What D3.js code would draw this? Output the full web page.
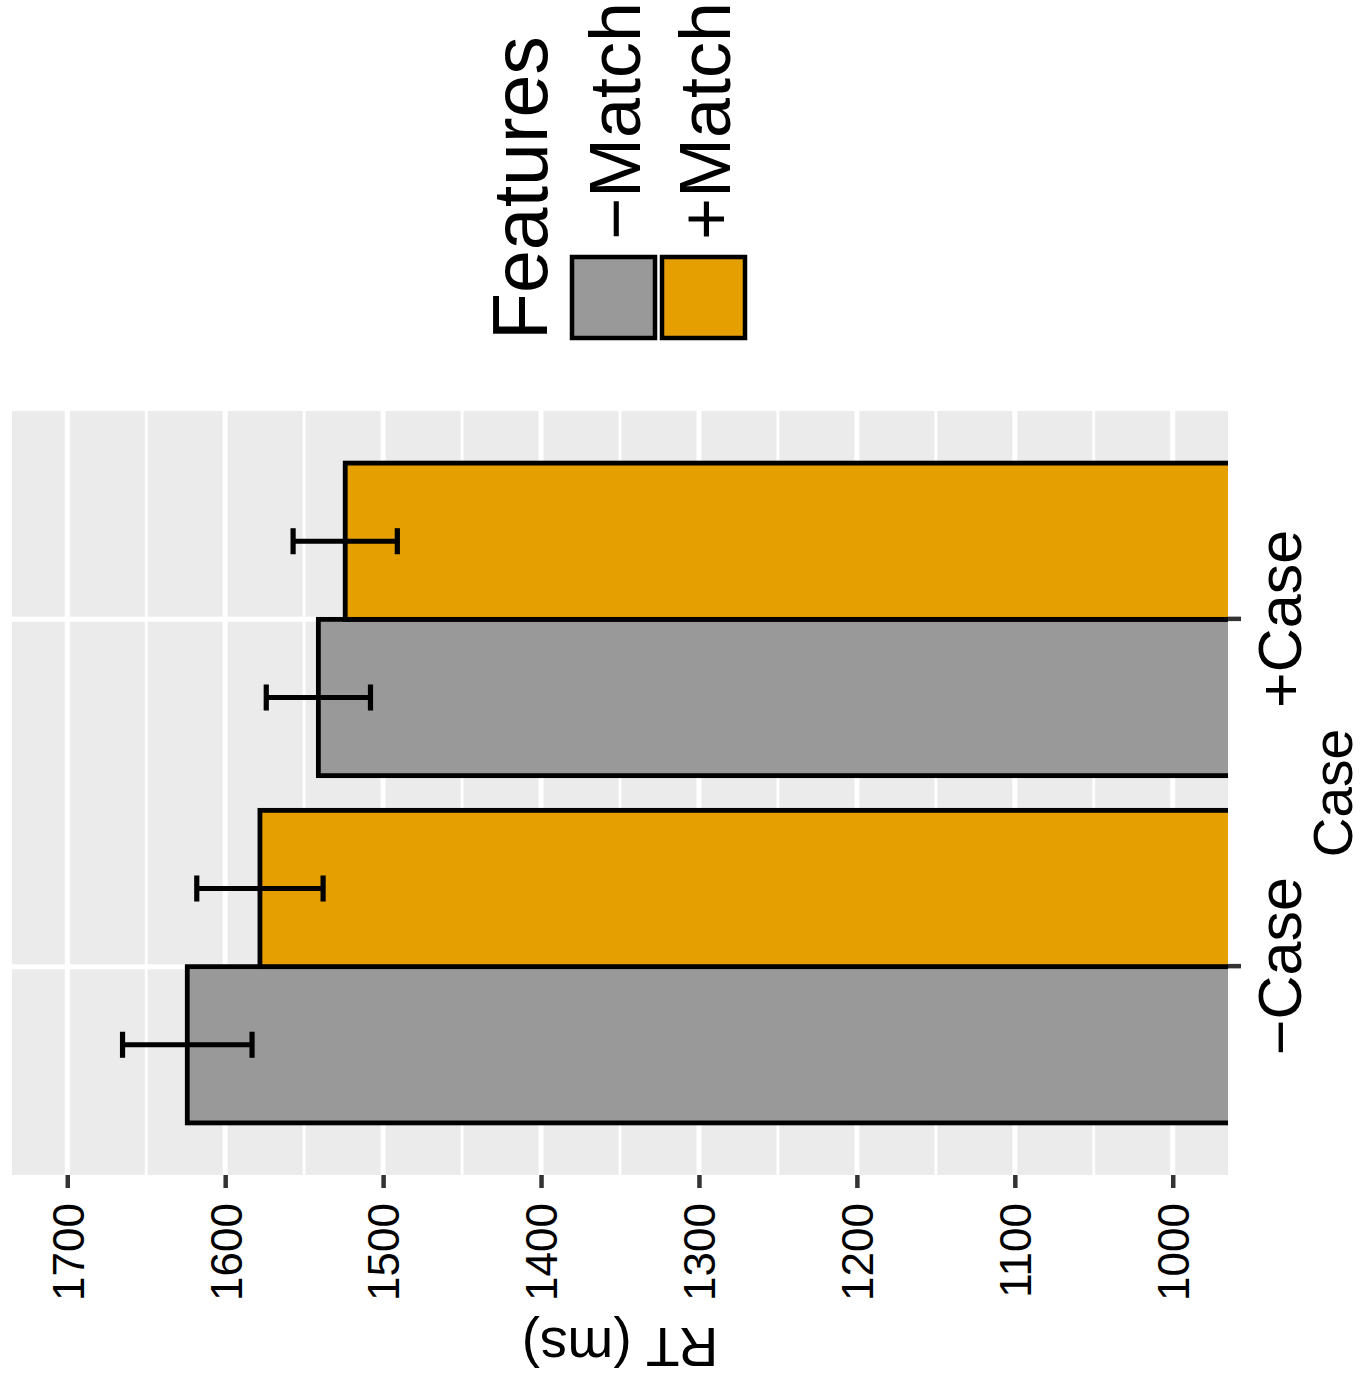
<!DOCTYPE html>
<html>
<head>
<meta charset="utf-8">
<script src="https://cdn.jsdelivr.net/npm/d3@7"></script>
<style>
  body { margin: 0; background: #fff; }
  svg { display: block; }
</style>
</head>
<body>
<div id="chart"></div>
<script>
// data (RT in ms, error bar half-widths)
const categories = ['\u2212Case', '+Case'];
const features = ['\u2212Match', '+Match'];
const featureColors = ['#999999', '#E69F00'];
const meanNoMatch = [1624, 1541];
const meanMatch = [1578, 1524];
const errNoMatch = [41, 33];
const errMatch = [40, 33];
const rtTicks = [1000, 1100, 1200, 1300, 1400, 1500, 1600, 1700];
const rtMinorTicks = [1050, 1150, 1250, 1350, 1450, 1550, 1650];

const pageWidth = 1365;
const pageHeight = 1387;
const fontFamily = "'Liberation Sans', Arial, Helvetica, sans-serif";

// the plot is drawn upright (x = Case, y = RT) and the whole thing is turned
// a quarter turn counter-clockwise, so the frame is pageHeight wide
const panel = { left: 212, right: 976, top: 12, bottom: 1228 };

const rows = [];
categories.forEach((c, i) => {
  rows.push({ cat: c, feature: features[0], mean: meanNoMatch[i], err: errNoMatch[i] });
  rows.push({ cat: c, feature: features[1], mean: meanMatch[i], err: errMatch[i] });
});

const svg = d3.select('#chart').append('svg')
  .attr('width', pageWidth)
  .attr('height', pageHeight);

const frame = svg.append('g')
  .attr('transform', `translate(0, ${pageHeight}) rotate(-90)`);

const x = d3.scalePoint()
  .domain(categories)
  .range([panel.left, panel.right])
  .padding(0.6);
const step = x.step();

const dodge = d3.scaleBand()
  .domain(features)
  .range([-0.45 * step, 0.45 * step]);

const y = d3.scaleLinear()
  .domain([965, 1735])
  .range([panel.bottom, panel.top]);

const color = d3.scaleOrdinal().domain(features).range(featureColors);

// panel
frame.append('defs').append('clipPath').attr('id', 'panel-clip')
  .append('rect')
  .attr('x', panel.left).attr('y', panel.top)
  .attr('width', panel.right - panel.left)
  .attr('height', panel.bottom - panel.top);

frame.append('rect')
  .attr('x', panel.left).attr('y', panel.top)
  .attr('width', panel.right - panel.left)
  .attr('height', panel.bottom - panel.top)
  .attr('fill', '#EBEBEB');

const grid = frame.append('g');
grid.selectAll('line.minor').data(rtMinorTicks).join('line')
  .attr('class', 'minor')
  .attr('x1', panel.left).attr('x2', panel.right)
  .attr('y1', d => y(d)).attr('y2', d => y(d))
  .attr('stroke', '#fff').attr('stroke-width', 2.8);
grid.selectAll('line.major').data(rtTicks).join('line')
  .attr('class', 'major')
  .attr('x1', panel.left).attr('x2', panel.right)
  .attr('y1', d => y(d)).attr('y2', d => y(d))
  .attr('stroke', '#fff').attr('stroke-width', 5);
grid.selectAll('line.cat').data(categories).join('line')
  .attr('class', 'cat')
  .attr('x1', d => x(d)).attr('x2', d => x(d))
  .attr('y1', panel.top).attr('y2', panel.bottom)
  .attr('stroke', '#fff').attr('stroke-width', 5);

// bars and error bars
const marks = frame.append('g').attr('clip-path', 'url(#panel-clip)');

marks.selectAll('rect.bar').data(rows).join('rect')
  .attr('class', 'bar')
  .attr('x', d => x(d.cat) + dodge(d.feature))
  .attr('width', dodge.bandwidth())
  .attr('y', d => y(d.mean))
  .attr('height', d => y(0) - y(d.mean))
  .attr('fill', d => color(d.feature))
  .attr('stroke', '#000')
  .attr('stroke-width', 4.8);

const capHalf = 0.0375 * step;
const errBars = marks.selectAll('g.err').data(rows).join('g')
  .attr('class', 'err')
  .attr('transform', d => `translate(${x(d.cat) + dodge(d.feature) + dodge.bandwidth() / 2}, 0)`);
errBars.append('line')
  .attr('x1', 0).attr('x2', 0)
  .attr('y1', d => y(d.mean - d.err)).attr('y2', d => y(d.mean + d.err));
errBars.append('line')
  .attr('x1', -capHalf).attr('x2', capHalf)
  .attr('y1', d => y(d.mean - d.err)).attr('y2', d => y(d.mean - d.err));
errBars.append('line')
  .attr('x1', -capHalf).attr('x2', capHalf)
  .attr('y1', d => y(d.mean + d.err)).attr('y2', d => y(d.mean + d.err));
errBars.selectAll('line')
  .attr('stroke', '#000')
  .attr('stroke-width', 5.2);

// axes
const yAxis = frame.append('g')
  .attr('transform', `translate(${panel.left}, 0)`)
  .call(d3.axisLeft(y).tickValues(rtTicks).tickFormat(d3.format('d')).tickSize(13).tickPadding(15));
yAxis.select('.domain').remove();
yAxis.selectAll('.tick line').attr('stroke', '#333').attr('stroke-width', 4.5);
yAxis.selectAll('.tick text')
  .attr('font-family', fontFamily)
  .attr('font-size', 44)
  .attr('fill', '#000')
  .attr('dy', '0.36em');

const xAxis = frame.append('g')
  .attr('transform', `translate(0, ${panel.bottom})`)
  .call(d3.axisBottom(x).tickSize(13).tickPadding(10));
xAxis.select('.domain').remove();
xAxis.selectAll('.tick line').attr('stroke', '#333').attr('stroke-width', 4.5);
xAxis.selectAll('.tick text')
  .attr('font-family', fontFamily)
  .attr('font-size', 61)
  .attr('fill', '#000')
  .attr('y', 73)
  .attr('dy', 0);

// axis titles
frame.append('text')
  .attr('transform', `translate(59, ${(panel.top + panel.bottom) / 2}) rotate(-90)`)
  .attr('text-anchor', 'middle')
  .attr('font-family', fontFamily)
  .attr('font-size', 55)
  .attr('fill', '#000')
  .text('RT (ms)');

frame.append('text')
  .attr('x', (panel.left + panel.right) / 2)
  .attr('y', 1352)
  .attr('text-anchor', 'middle')
  .attr('font-family', fontFamily)
  .attr('font-size', 55)
  .attr('fill', '#000')
  .text('Case');

// legend
const legend = frame.append('g').attr('transform', 'translate(1047, 0)');
legend.append('text')
  .attr('x', 0).attr('y', 547)
  .attr('font-family', fontFamily)
  .attr('font-size', 77)
  .attr('fill', '#000')
  .text('Features');

const keyTop = [572, 662];
const keySize = 83;
const keys = legend.selectAll('g.key').data(features).join('g')
  .attr('class', 'key')
  .attr('transform', (d, i) => `translate(0, ${keyTop[i]})`);
keys.append('rect')
  .attr('x', 2).attr('y', 0)
  .attr('width', keySize - 2).attr('height', keySize)
  .attr('fill', d => color(d))
  .attr('stroke', '#000')
  .attr('stroke-width', 4.5);
keys.append('text')
  .attr('x', 100)
  .attr('y', keySize / 2 + 26)
  .attr('font-family', fontFamily)
  .attr('font-size', 72)
  .attr('fill', '#000')
  .text(d => d);
</script>
</body>
</html>
